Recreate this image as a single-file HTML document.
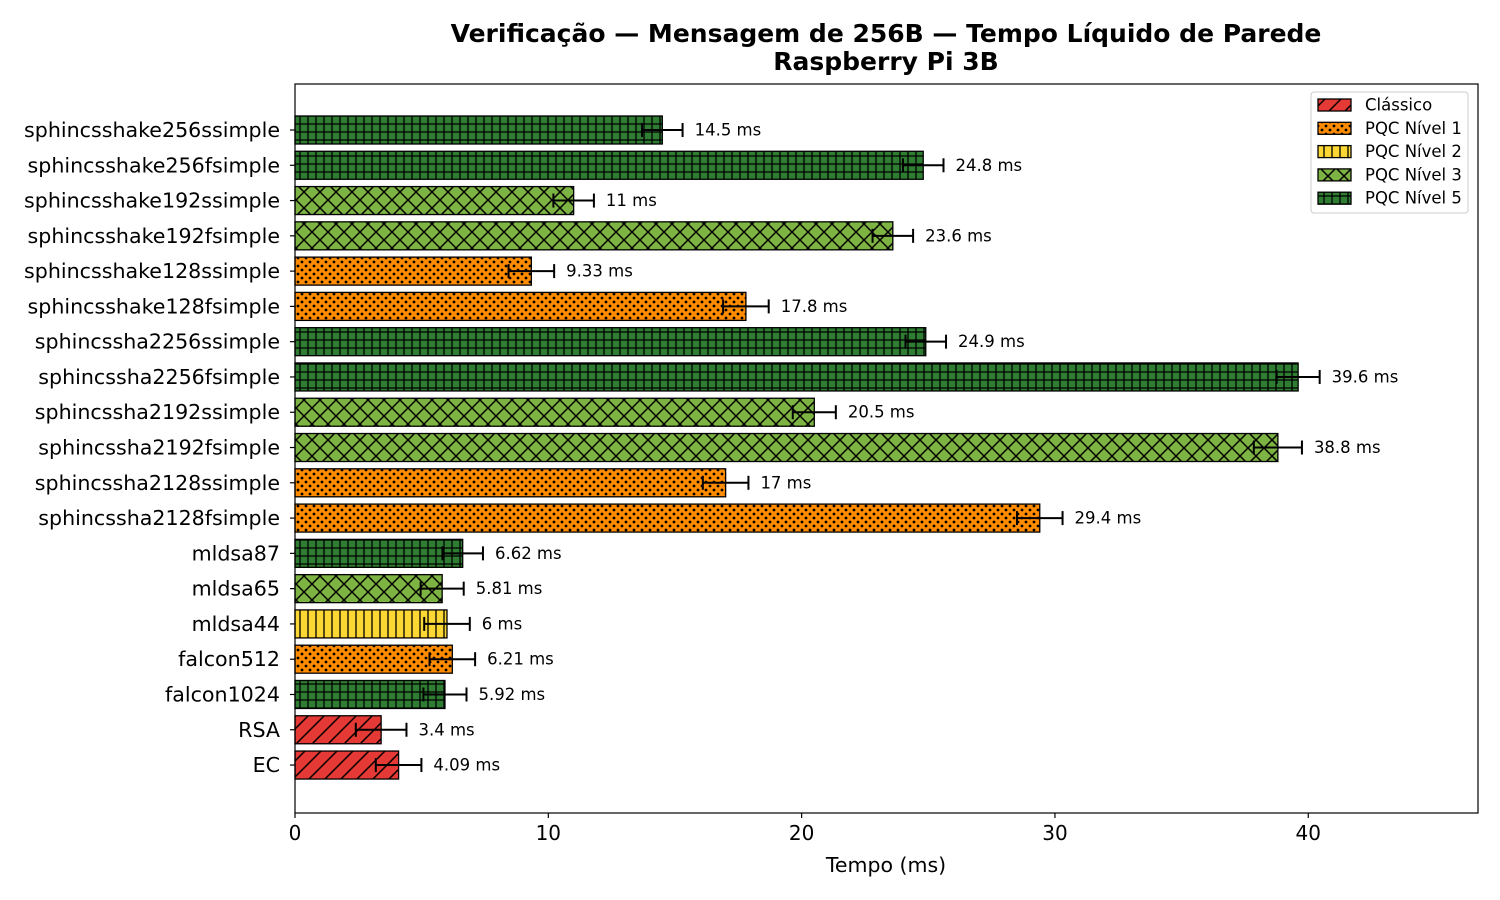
<!DOCTYPE html>
<html><head><meta charset="utf-8">
<style>
html,body{margin:0;padding:0;background:#fff;}
svg{display:block;font-family:"DejaVu Sans","Liberation Sans",sans-serif;}
</style></head>
<body>
<svg id="chart" width="1500" height="900" viewBox="0 0 1500 900">
<defs>
<pattern id="p-classic" width="16" height="16" patternUnits="userSpaceOnUse">
<rect width="16" height="16" fill="#e53935"/>
<path d="M-4,4 L4,-4 M0,16 L16,0 M12,20 L20,12" stroke="#000" stroke-width="1.5"/>
</pattern>
<pattern id="p-l1" width="8" height="8" patternUnits="userSpaceOnUse">
<rect width="8" height="8" fill="#ff8c00"/>
<circle cx="2" cy="2" r="1.4" fill="#000"/>
<circle cx="6" cy="6" r="1.4" fill="#000"/>
</pattern>
<pattern id="p-l2" width="8" height="8" patternUnits="userSpaceOnUse">
<rect width="8" height="8" fill="#fdd835"/>
<path d="M4,0 L4,8" stroke="#000" stroke-width="1.3"/>
</pattern>
<pattern id="p-l3" width="16" height="16" patternUnits="userSpaceOnUse">
<rect width="16" height="16" fill="#7cb342"/>
<path d="M0,0 L16,16 M16,0 L0,16" stroke="#000" stroke-width="1.5"/>
</pattern>
<pattern id="p-l5" width="8" height="8" patternUnits="userSpaceOnUse">
<rect width="8" height="8" fill="#2e7d32"/>
<path d="M4,0 L4,8 M0,4 L8,4" stroke="#000" stroke-width="1.3"/>
</pattern>
</defs>
<text x="886" y="42" text-anchor="middle" font-size="25" font-weight="bold">Verificação — Mensagem de 256B — Tempo Líquido de Parede</text>
<text x="886" y="70" text-anchor="middle" font-size="25" font-weight="bold">Raspberry Pi 3B</text>
<g id="plot"></g>
<rect x="295" y="84" width="1183" height="729" fill="none" stroke="#000" stroke-width="1.2"/>
<text x="886" y="872" text-anchor="middle" font-size="20.5">Tempo (ms)</text>
<g>
<rect x="1311" y="92" width="157" height="121" rx="3" fill="#fff" stroke="#ccc" stroke-width="1"/>
<g id="legend-items"></g>
</g>
</svg>
<script>
const labels=["sphincsshake256ssimple","sphincsshake256fsimple","sphincsshake192ssimple","sphincsshake192fsimple","sphincsshake128ssimple","sphincsshake128fsimple","sphincssha2256ssimple","sphincssha2256fsimple","sphincssha2192ssimple","sphincssha2192fsimple","sphincssha2128ssimple","sphincssha2128fsimple","mldsa87","mldsa65","mldsa44","falcon512","falcon1024","RSA","EC"];
const values=[14.5,24.8,11,23.6,9.33,17.8,24.9,39.6,20.5,38.8,17,29.4,6.62,5.81,6,6.21,5.92,3.4,4.09];
const errors=[0.8,0.8,0.8,0.8,0.9,0.9,0.8,0.85,0.85,0.95,0.9,0.9,0.8,0.85,0.9,0.9,0.85,1.0,0.9];
const levels=[5,5,3,3,1,1,5,5,3,3,1,1,5,3,2,1,5,0,0];
const valueText=["14.5 ms","24.8 ms","11 ms","23.6 ms","9.33 ms","17.8 ms","24.9 ms","39.6 ms","20.5 ms","38.8 ms","17 ms","29.4 ms","6.62 ms","5.81 ms","6 ms","6.21 ms","5.92 ms","3.4 ms","4.09 ms"];
const xTicks=[0,10,20,30,40];
const legendNames=["Clássico","PQC Nível 1","PQC Nível 2","PQC Nível 3","PQC Nível 5"];
const legendLevels=[0,1,2,3,5];

const NS="http://www.w3.org/2000/svg";
const X0=295,XMAX=46.7,W=1183;
const x=v=>X0+v/XMAX*W;
const y=i=>130+i*35.28;
const pat=l=>({0:"url(#p-classic)",1:"url(#p-l1)",2:"url(#p-l2)",3:"url(#p-l3)",5:"url(#p-l5)"}[l]);
function mk(t,a,p){const e=document.createElementNS(NS,t);for(const k in a)e.setAttribute(k,a[k]);p.appendChild(e);return e;}
const plot=document.getElementById("plot");
labels.forEach((lab,i)=>{
  const cy=y(i);
  const b=mk("rect",{x:X0,y:cy-14,width:x(values[i])-X0,height:28,fill:pat(levels[i]),stroke:"#000","stroke-width":1.3},plot);
  
  
  const g=mk("g",{stroke:"#000","stroke-width":2},plot);
  
  
  const a=x(values[i]-errors[i]),c=x(values[i]+errors[i]);
  mk("line",{x1:a,x2:c,y1:cy,y2:cy},g);
  mk("line",{x1:a,x2:a,y1:cy-7,y2:cy+7},g);
  mk("line",{x1:c,x2:c,y1:cy-7,y2:cy+7},g);
  const vt=mk("text",{x:c+12,y:cy+5.5,"font-size":16.5},plot);
  vt.textContent=valueText[i];
  
  
  const tl=mk("text",{x:280,y:cy+7,"text-anchor":"end","font-size":20.6},plot);
  tl.textContent=lab;
  
  
  mk("line",{x1:290,x2:295,y1:cy,y2:cy,stroke:"#000","stroke-width":1.2},plot);
});
xTicks.forEach(t=>{
  mk("line",{x1:x(t),x2:x(t),y1:813,y2:818,stroke:"#000","stroke-width":1.2},plot);
  const tt=mk("text",{x:x(t),y:840,"text-anchor":"middle","font-size":20},plot);
  tt.textContent=t;
  
  
});
const lg=document.getElementById("legend-items");
legendNames.forEach((n,i)=>{
  const ly=105+i*23.3;
  const r=mk("rect",{x:1318,y:ly-6,width:33,height:12,fill:pat(legendLevels[i]),stroke:"#000","stroke-width":1.3},lg);
  
  
  const t=mk("text",{x:1365,y:ly+5.5,"font-size":16.5},lg);
  t.textContent=n;
  
  
});
</script>
</body></html>
